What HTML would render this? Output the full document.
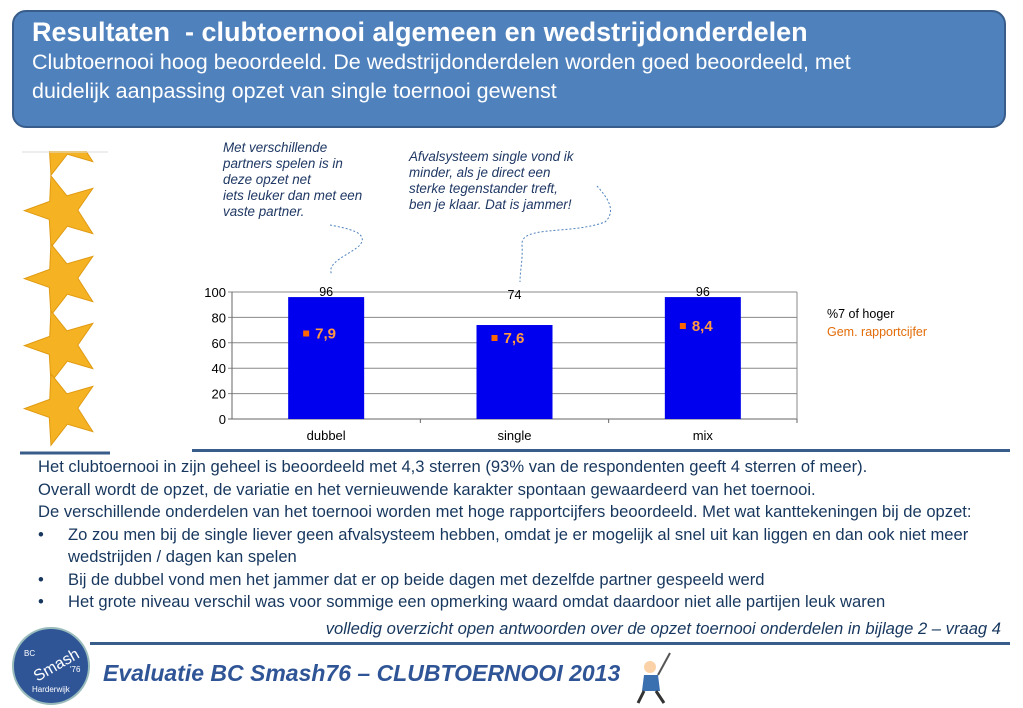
<!DOCTYPE html>
<html><head><meta charset="utf-8"><style>
body{margin:0;width:1023px;height:708px;background:#fff;position:relative;overflow:hidden;font-family:"Liberation Sans",sans-serif}
.abs{position:absolute}
#hdr{left:12px;top:10px;width:994px;height:118px;background:#4f81bd;border:2px solid #385d8a;border-radius:14px;box-sizing:border-box;color:#fff;padding:4px 0 0 18px}
.it{font-style:italic;color:#1f3864;font-size:13.4px;line-height:16px}
.body{left:38px;top:456px;font-size:16.6px;color:#17375e;line-height:22.5px;width:985px}
.body div{white-space:nowrap}
</style></head><body>
<div id="hdr" class="abs">
<div style="font-size:27px;font-weight:bold;line-height:32px;white-space:nowrap">Resultaten&nbsp; - clubtoernooi algemeen en wedstrijdonderdelen</div>
<div style="font-size:21.5px;line-height:29px;white-space:nowrap">Clubtoernooi hoog beoordeeld. De wedstrijdonderdelen worden goed beoordeeld, met<br>duidelijk aanpassing opzet van single toernooi gewenst</div>
</div>
<svg class="abs" style="left:0;top:130px" width="130" height="330">
<g fill="#f5b324" stroke="#e09a10" stroke-width="1">
<polygon transform="translate(62,8) rotate(-18)" points="0,-36 9,-12 36,-11 15,5 22,32 0,17 -22,32 -15,5 -36,-11 -9,-12"/>
<rect x="20" y="0" width="90" height="21" fill="#fff" stroke="none"/>
<polygon transform="translate(62,80) rotate(-18)" points="0,-36 9,-12 36,-11 15,5 22,32 0,17 -22,32 -15,5 -36,-11 -9,-12"/>
<polygon transform="translate(62,148) rotate(-18)" points="0,-36 9,-12 36,-11 15,5 22,32 0,17 -22,32 -15,5 -36,-11 -9,-12"/>
<polygon transform="translate(62,215) rotate(-18)" points="0,-36 9,-12 36,-11 15,5 22,32 0,17 -22,32 -15,5 -36,-11 -9,-12"/>
<polygon transform="translate(62,278) rotate(-18)" points="0,-36 9,-12 36,-11 15,5 22,32 0,17 -22,32 -15,5 -36,-11 -9,-12"/>
</g>
<line x1="22" y1="22" x2="108" y2="22" stroke="#ddd"/>
<line x1="20" y1="323" x2="110" y2="323" stroke="#385d8a" stroke-width="3"/>
</svg>
<div class="abs it" style="left:223px;top:140px">Met verschillende<br>partners spelen is in<br>deze opzet net<br>iets leuker dan met een<br>vaste partner.</div>
<div class="abs it" style="left:409px;top:149px">Afvalsysteem single vond ik<br>minder, als je direct een<br>sterke tegenstander treft,<br>ben je klaar. Dat is jammer!</div>
<svg class="abs" style="left:0;top:0" width="1023" height="708">
<path d="M330,225 C345,228 370,232 360,245 C350,255 325,262 332,275" fill="none" stroke="#4f81bd" stroke-dasharray="2,2"/>
<path d="M597,186 C605,195 618,210 605,222 C570,235 520,225 522,245 C523,260 520,270 520,282" fill="none" stroke="#4f81bd" stroke-dasharray="2,2"/>
</svg>
<svg id="chart" class="abs" style="left:0;top:0" width="1023" height="708"></svg>
<div class="abs" style="left:827px;top:305px;font-size:12.5px;line-height:18px">
<div style="color:#000">%7 of hoger</div>
<div style="color:#e36c09">Gem. rapportcijfer</div></div>
<div class="abs" style="left:192px;top:449px;width:818px;height:3px;background:#385d8a"></div>
<div class="abs body">
<div>Het clubtoernooi in zijn geheel is beoordeeld met 4,3 sterren (93% van de respondenten geeft 4 sterren of meer).</div>
<div>Overall wordt de opzet, de variatie en het vernieuwende karakter spontaan gewaardeerd van het toernooi.</div>
<div>De verschillende onderdelen van het toernooi worden met hoge rapportcijfers beoordeeld. Met wat kanttekeningen bij de opzet:</div>
<div><span style="display:inline-block;width:30px">•</span>Zo zou men bij de single liever geen afvalsysteem hebben, omdat je er mogelijk al snel uit kan liggen en dan ook niet meer</div>
<div><span style="display:inline-block;width:30px"></span>wedstrijden / dagen kan spelen</div>
<div><span style="display:inline-block;width:30px">•</span>Bij de dubbel vond men het jammer dat er op beide dagen met dezelfde partner gespeeld werd</div>
<div><span style="display:inline-block;width:30px">•</span>Het grote niveau verschil was voor sommige een opmerking waard omdat daardoor niet alle partijen leuk waren</div>
</div>
<div class="abs" style="right:22px;top:619px;font-style:italic;font-size:16.6px;color:#17375e;white-space:nowrap">volledig overzicht open antwoorden over de opzet toernooi onderdelen in bijlage 2 – vraag 4</div>
<div class="abs" style="left:90px;top:642px;width:920px;height:3px;background:#385d8a"></div>
<div class="abs" style="left:12px;top:627px;width:74px;height:74px;border-radius:50%;background:#2f5597;border:2px solid #9bb;color:#fff;font-size:8px">
<span class="abs" style="left:10px;top:20px">BC</span><span class="abs" style="left:18px;top:28px;font-size:16px;transform:rotate(-30deg)">Smash</span><span class="abs" style="left:56px;top:36px">'76</span><span class="abs" style="left:18px;top:56px">Harderwijk</span></div>
<div class="abs" style="left:103px;top:660px;font-size:23px;font-weight:bold;font-style:italic;color:#2f5597;white-space:nowrap">Evaluatie BC Smash76 – CLUBTOERNOOI 2013</div>
<svg class="abs" style="left:630px;top:645px" width="50" height="60"><circle cx="20" cy="22" r="6" fill="#fbd2a8"/><path d="M14,30 L28,30 L30,46 L12,46Z" fill="#3a6fb0"/><line x1="28" y1="30" x2="40" y2="8" stroke="#555" stroke-width="2"/><line x1="14" y1="46" x2="8" y2="58" stroke="#333" stroke-width="3"/><line x1="26" y1="46" x2="34" y2="58" stroke="#333" stroke-width="3"/></svg>
<script>
const categories=["dubbel","single","mix"];
const pctValues=[96,74,96];
const gradeValues=[7.9,7.6,8.4];
const gradeLabels=["7,9","7,6","8,4"];
const yTicks=[0,20,40,60,80,100];
const NS="http://www.w3.org/2000/svg";
const svg=document.getElementById('chart');
const x0=232,x1=797,yBase=419,yTop=292;
const y=v=>yBase-(v/100)*(yBase-yTop);
const yG=v=>338-(v-7.6)*15;
const band=(x1-x0)/categories.length;
const cx=i=>x0+band*(i+0.5);
function mk(t,a){const e=document.createElementNS(NS,t);for(const k in a)e.setAttribute(k,a[k]);svg.appendChild(e);return e;}
yTicks.forEach(t=>{
 const l=mk('line',{x1:x0-4,x2:x1,y1:y(t),y2:y(t),stroke:t?'#888':'#666'});
 
 
 const tx=mk('text',{x:x0-6,y:y(t)+5,'text-anchor':'end','font-size':13,fill:'#000'});tx.textContent=t;
 
 
});
const ax=mk('line',{x1:x0,x2:x0,y1:yTop,y2:yBase,stroke:'#666'});


const rb=mk('line',{x1:x1,x2:x1,y1:yTop,y2:yBase,stroke:'#888'});


categories.forEach((c,i)=>{
 const bw=76;
 const b=mk('rect',{x:cx(i)-bw/2,y:y(pctValues[i]),width:bw,height:yBase-y(pctValues[i]),fill:'#0000ee'});
 
 
 const v=mk('text',{x:cx(i),y:Math.min(y(pctValues[i]),yTop+8)-1,'text-anchor':'middle','font-size':12.5});v.textContent=pctValues[i];
 
 
 const tk=mk('line',{x1:x0+band*(i+1),x2:x0+band*(i+1),y1:yBase,y2:yBase+4,stroke:'#666'});
 
 
 const cl=mk('text',{x:cx(i),y:yBase+21,'text-anchor':'middle','font-size':13});cl.textContent=c;
 
 
 const gy=yG(gradeValues[i]);
 const m=mk('rect',{x:cx(i)-23,y:gy-3,width:6,height:6,fill:'#ff6600'});
 
 
 const gl=mk('text',{x:cx(i)-11,y:gy+5,'font-size':15,'font-weight':'bold',fill:'#ff9a40'});gl.textContent=gradeLabels[i];
 
 
});
</script>
</body></html>
